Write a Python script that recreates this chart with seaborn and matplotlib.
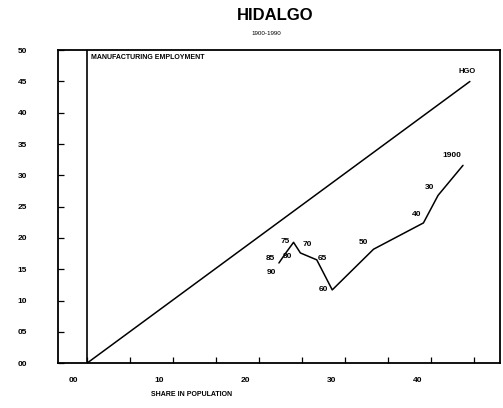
import numpy as np
import pandas as pd
import matplotlib
matplotlib.use('Agg')
import matplotlib.pyplot as plt
import matplotlib.transforms as mtransforms
import seaborn as sns

# --- Data ---
year_labels = ['1900', '30', '40', '50', '60', '65', '70', '75', '80', '85']
pop_share = [4.37, 4.08, 3.91, 3.33, 2.85, 2.67, 2.48, 2.40, 2.31, 2.23]
emp_share = [3.16, 2.68, 2.24, 1.82, 1.17, 1.65, 1.76, 1.93, 1.76, 1.60]
last_label = '90'
last_point = (2.14, 1.45)
diag_x = [0.0, 4.45]
diag_y = [0.0, 4.5]
y_ticks = [0.0, 0.5, 1.0, 1.5, 2.0, 2.5, 3.0, 3.5, 4.0, 4.5, 5.0]
y_tick_labels = ['00', '05', '10', '15', '20', '25', '30', '35', '40', '45', '50']
x_ticks = [0.0, 0.5, 1.0, 1.5, 2.0, 2.5, 3.0, 3.5, 4.0, 4.5]
x_tick_labels = ['00', '', '10', '', '20', '', '30', '', '40', '']

# label offsets in pixels (dx, dy)
label_offsets = [(-11, 10), (-9, 8), (-7, 8), (-10, 7), (-9, 0), (6, 1),
                 (7, 8), (-8, 1), (2, -4), (-9, 4)]

df = pd.DataFrame({'pop': pop_share, 'emp': emp_share, 'year': year_labels})
diag = pd.DataFrame({'x': diag_x, 'y': diag_y})

sns.set_style('ticks')
plt.rcParams['font.family'] = ['Liberation Sans Narrow', 'Liberation Sans', 'DejaVu Sans']
plt.rcParams['text.color'] = 'black'
plt.rcParams['xtick.color'] = 'black'
plt.rcParams['ytick.color'] = 'black'

fig = plt.figure(figsize=(5.03, 4.08), dpi=100)
ax = fig.add_axes([0.115, 0.110, 0.879, 0.767])

sns.lineplot(data=diag, x='x', y='y', color='black', lw=1.1, ax=ax)
sns.lineplot(data=df, x='pop', y='emp', sort=False, color='black', lw=1.1, ax=ax)
ax.axvline(0, color='black', lw=1.2)

for (x, y, lab), (dx, dy) in zip(zip(pop_share, emp_share, year_labels), label_offsets):
    ax.annotate(lab, (x, y), xytext=(dx, dy), textcoords='offset pixels',
                ha='center', va='center', fontsize=6, fontweight='bold')
ax.annotate(last_label, last_point, ha='center', va='center', fontsize=6, fontweight='bold')
ax.annotate('HGO', (diag_x[-1], diag_y[-1]), xytext=(-3, 10), textcoords='offset pixels',
            ha='center', va='center', fontsize=5.5, fontweight='bold')

ax.set_xlim(-0.34, 4.80)
ax.set_ylim(0, 5.0)
ax.set_xticks(x_ticks)
ax.set_xticklabels(x_tick_labels, fontsize=6, fontweight='bold')
ax.set_yticks(y_ticks)
ax.set_yticklabels(y_tick_labels, fontsize=6, fontweight='bold')
ax.tick_params(axis='both', direction='in', length=4, width=0.9)
ax.tick_params(axis='x', pad=10)
ax.tick_params(axis='y', pad=22)
offset = mtransforms.ScaledTranslation(-0.14, 0, fig.dpi_scale_trans)
for lab in ax.get_xticklabels():
    lab.set_transform(lab.get_transform() + offset)
ax.set_xlabel('')
ax.set_ylabel('')
for s in ax.spines.values():
    s.set_linewidth(1.3)
    s.set_color('black')

ax.text(0.05, 4.88, 'MANUFACTURING EMPLOYMENT', fontsize=5, fontweight='bold', va='center')
fig.text(0.547, 0.963, 'HIDALGO', ha='center', va='center', fontsize=12, fontweight='bold')
fig.text(0.529, 0.919, '1900-1990', ha='center', va='center', fontsize=4.5)
fig.text(0.381, 0.032, 'SHARE IN POPULATION', ha='center', va='center', fontsize=5, fontweight='bold')

fig.savefig('out.png', dpi=100)
